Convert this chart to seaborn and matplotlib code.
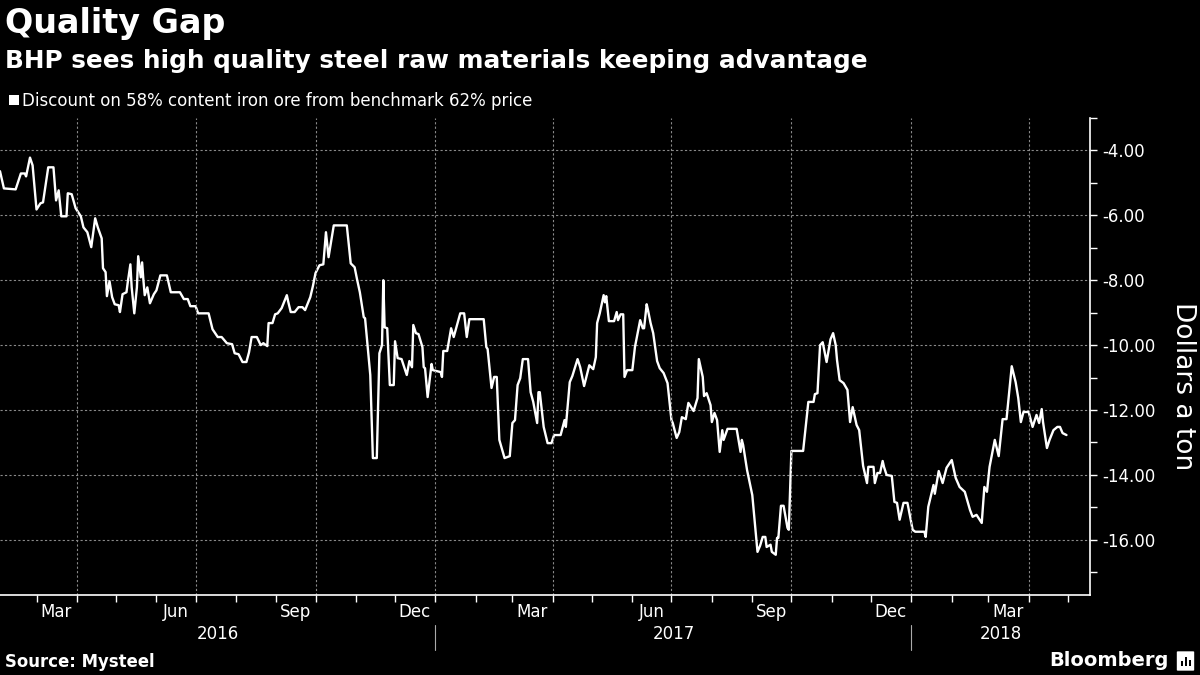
import pandas as pd
import numpy as np
import seaborn as sns
import matplotlib.pyplot as plt
import matplotlib.ticker as ticker
import matplotlib.transforms as transforms
from matplotlib.patches import Rectangle, FancyBboxPatch

#---------------------------------------------Data---------------------------------------------
# Discount on 58% iron ore vs 62% benchmark, dollars a ton
dates_2016 = ['2016-02-02', '2016-02-05', '2016-02-14', '2016-02-18', '2016-02-21', '2016-02-22',
              '2016-02-25', '2016-02-27', '2016-03-01', '2016-03-04', '2016-03-06', '2016-03-10',
              '2016-03-14', '2016-03-16', '2016-03-18', '2016-03-20', '2016-03-24', '2016-03-25',
              '2016-03-28', '2016-03-31', '2016-04-04', '2016-04-06', '2016-04-09', '2016-04-12',
              '2016-04-15', '2016-04-17', '2016-04-20', '2016-04-21', '2016-04-23', '2016-04-24',
              '2016-04-26', '2016-04-28', '2016-04-30', '2016-05-03', '2016-05-04', '2016-05-06',
              '2016-05-09', '2016-05-10', '2016-05-12', '2016-05-13', '2016-05-15', '2016-05-17',
              '2016-05-18', '2016-05-20', '2016-05-21', '2016-05-22', '2016-05-23', '2016-05-25',
              '2016-05-27', '2016-05-30', '2016-06-01', '2016-06-04', '2016-06-09', '2016-06-12',
              '2016-06-19', '2016-06-22', '2016-06-25', '2016-06-27', '2016-07-01', '2016-07-03',
              '2016-07-11', '2016-07-14', '2016-07-18', '2016-07-21', '2016-07-25', '2016-07-29',
              '2016-07-31', '2016-08-03', '2016-08-06', '2016-08-09', '2016-08-11', '2016-08-13',
              '2016-08-17', '2016-08-20', '2016-08-22', '2016-08-25', '2016-08-26', '2016-08-29',
              '2016-08-31', '2016-09-02', '2016-09-05', '2016-09-09', '2016-09-10', '2016-09-12',
              '2016-09-15', '2016-09-18', '2016-09-21', '2016-09-23', '2016-09-27', '2016-09-29',
              '2016-10-01', '2016-10-04', '2016-10-07', '2016-10-09', '2016-10-11', '2016-10-15',
              '2016-10-25', '2016-10-28', '2016-10-31', '2016-11-02', '2016-11-04', '2016-11-07',
              '2016-11-08', '2016-11-12', '2016-11-14', '2016-11-17', '2016-11-19', '2016-11-21',
              '2016-11-22', '2016-11-23', '2016-11-25', '2016-11-27', '2016-11-30', '2016-12-01',
              '2016-12-03', '2016-12-06', '2016-12-10', '2016-12-12', '2016-12-14', '2016-12-15',
              '2016-12-17', '2016-12-19', '2016-12-22', '2016-12-23', '2016-12-24', '2016-12-26',
              '2016-12-29', '2016-12-30']
values_2016 = [-4.64, -5.17, -5.20, -4.71, -4.71, -4.80,
               -4.22, -4.46, -5.82, -5.63, -5.60, -4.52,
               -4.52, -5.54, -5.23, -6.03, -6.03, -5.32,
               -5.35, -5.78, -6.03, -6.37, -6.52, -6.98,
               -6.09, -6.37, -6.71, -7.63, -7.75, -8.49,
               -8.03, -8.52, -8.74, -8.77, -8.98, -8.43,
               -8.37, -8.06, -7.51, -8.22, -9.02, -8.22,
               -7.26, -7.91, -7.45, -8.00, -8.46, -8.22,
               -8.71, -8.43, -8.31, -7.85, -7.85, -8.37,
               -8.37, -8.58, -8.58, -8.80, -8.80, -9.02,
               -9.02, -9.51, -9.75, -9.75, -9.94, -9.97,
               -10.25, -10.28, -10.52, -10.52, -10.22, -9.75,
               -9.75, -10.00, -9.94, -10.03, -9.32, -9.32,
               -9.05, -9.02, -8.86, -8.46, -8.65, -8.98,
               -8.98, -8.83, -8.83, -8.92, -8.52, -8.18,
               -7.78, -7.54, -7.51, -6.52, -7.29, -6.31,
               -6.31, -7.48, -7.60, -8.00, -8.37, -9.14,
               -9.17, -10.92, -13.48, -13.48, -10.25, -10.00,
               -8.00, -9.45, -9.48, -11.23, -11.23, -9.88,
               -10.40, -10.43, -10.92, -10.49, -10.68, -9.38,
               -9.63, -9.66, -10.06, -10.68, -10.71, -11.60,
               -10.58, -10.77]

dates_2017 = ['2017-01-05', '2017-01-06', '2017-01-07', '2017-01-10', '2017-01-13', '2017-01-15',
              '2017-01-20', '2017-01-23', '2017-01-25', '2017-01-27', '2017-02-07', '2017-02-09',
              '2017-02-10', '2017-02-13', '2017-02-15', '2017-02-17', '2017-02-19', '2017-02-23',
              '2017-02-27', '2017-03-01', '2017-03-03', '2017-03-05', '2017-03-07', '2017-03-09',
              '2017-03-13', '2017-03-15', '2017-03-17', '2017-03-20', '2017-03-21', '2017-03-22',
              '2017-03-25', '2017-03-28', '2017-03-31', '2017-04-02', '2017-04-07', '2017-04-10',
              '2017-04-11', '2017-04-14', '2017-04-16', '2017-04-20', '2017-04-22', '2017-04-25',
              '2017-04-29', '2017-05-02', '2017-05-04', '2017-05-05', '2017-05-07', '2017-05-10',
              '2017-05-11', '2017-05-12', '2017-05-14', '2017-05-18', '2017-05-20', '2017-05-21',
              '2017-05-23', '2017-05-25', '2017-05-26', '2017-05-28', '2017-06-01', '2017-06-03',
              '2017-06-07', '2017-06-09', '2017-06-10', '2017-06-12', '2017-06-13', '2017-06-15',
              '2017-06-17', '2017-06-20', '2017-06-22', '2017-06-25', '2017-06-28', '2017-07-01',
              '2017-07-02', '2017-07-05', '2017-07-07', '2017-07-09', '2017-07-12', '2017-07-14',
              '2017-07-18', '2017-07-21', '2017-07-22', '2017-07-25', '2017-07-26', '2017-07-28',
              '2017-07-31', '2017-08-01', '2017-08-03', '2017-08-05', '2017-08-07', '2017-08-09',
              '2017-08-10', '2017-08-13', '2017-08-20', '2017-08-23', '2017-08-24', '2017-08-25',
              '2017-08-28', '2017-09-01', '2017-09-05', '2017-09-07', '2017-09-09', '2017-09-11',
              '2017-09-12', '2017-09-15', '2017-09-16', '2017-09-19', '2017-09-20', '2017-09-21',
              '2017-09-23', '2017-09-25', '2017-09-28', '2017-09-29', '2017-10-01', '2017-10-10',
              '2017-10-14', '2017-10-18', '2017-10-19', '2017-10-21', '2017-10-23', '2017-10-25',
              '2017-10-28', '2017-10-31', '2017-11-02', '2017-11-04', '2017-11-05', '2017-11-07',
              '2017-11-10', '2017-11-13', '2017-11-15', '2017-11-17', '2017-11-20', '2017-11-22',
              '2017-11-25', '2017-11-28', '2017-11-29', '2017-12-03', '2017-12-04', '2017-12-06',
              '2017-12-08', '2017-12-10', '2017-12-11', '2017-12-13', '2017-12-17', '2017-12-19',
              '2017-12-21', '2017-12-23', '2017-12-26', '2017-12-29']
values_2017 = [-10.83, -10.98, -10.18, -10.18, -9.48, -9.75,
               -9.02, -9.02, -9.75, -9.20, -9.20, -10.06,
               -10.12, -11.32, -10.98, -10.98, -12.92, -13.48,
               -13.42, -12.40, -12.31, -11.23, -11.02, -10.43,
               -10.43, -11.45, -11.75, -12.40, -11.45, -11.45,
               -12.52, -13.02, -13.02, -12.77, -12.77, -12.31,
               -12.52, -11.14, -10.95, -10.43, -10.68, -11.26,
               -10.62, -10.74, -10.37, -9.32, -9.02, -8.46,
               -8.68, -8.49, -9.26, -9.26, -8.98, -9.23,
               -9.05, -9.05, -10.98, -10.77, -10.77, -10.06,
               -9.23, -9.48, -9.48, -8.74, -8.92, -9.32,
               -9.63, -10.49, -10.71, -10.86, -11.17, -12.31,
               -12.40, -12.86, -12.68, -12.22, -12.28, -11.78,
               -12.03, -11.63, -10.43, -10.98, -11.57, -11.48,
               -11.85, -12.37, -12.09, -12.31, -13.29, -12.62,
               -12.92, -12.58, -12.58, -13.29, -12.92, -13.08,
               -13.85, -14.62, -16.37, -16.18, -15.91, -15.91,
               -16.22, -16.15, -16.37, -16.46, -15.94, -15.94,
               -14.95, -14.95, -15.63, -15.69, -13.26, -13.26,
               -11.75, -11.75, -11.51, -11.48, -10.00, -9.91,
               -10.52, -9.82, -9.63, -10.00, -10.46, -11.08,
               -11.17, -11.38, -12.37, -11.91, -12.46, -12.62,
               -13.72, -14.25, -13.75, -13.75, -14.25, -13.94,
               -13.94, -13.57, -13.75, -14.00, -14.03, -14.83,
               -14.86, -15.38, -14.86, -14.86]

dates_2018 = ['2018-01-02', '2018-01-04', '2018-01-11', '2018-01-12', '2018-01-14', '2018-01-18',
              '2018-01-19', '2018-01-22', '2018-01-25', '2018-01-28', '2018-02-01', '2018-02-04',
              '2018-02-07', '2018-02-11', '2018-02-15', '2018-02-17', '2018-02-20', '2018-02-24',
              '2018-02-26', '2018-02-28', '2018-03-02', '2018-03-06', '2018-03-09', '2018-03-12',
              '2018-03-15', '2018-03-19', '2018-03-22', '2018-03-24', '2018-03-26', '2018-03-28',
              '2018-04-01', '2018-04-04', '2018-04-07', '2018-04-09', '2018-04-11', '2018-04-12',
              '2018-04-15', '2018-04-17', '2018-04-20', '2018-04-23', '2018-04-25', '2018-04-27',
              '2018-04-30']
values_2018 = [-15.69, -15.75, -15.75, -15.91, -14.98, -14.31,
               -14.58, -13.88, -14.25, -13.78, -13.54, -14.09,
               -14.37, -14.52, -15.08, -15.29, -15.23, -15.48,
               -14.37, -14.52, -13.75, -12.92, -13.42, -12.28,
               -12.28, -10.65, -11.14, -11.63, -12.37, -12.06,
               -12.06, -12.52, -12.15, -12.40, -11.97, -12.37,
               -13.17, -12.92, -12.62, -12.52, -12.52, -12.71,
               -12.77]

# axis setup values
y_ticks = [-16, -14, -12, -10, -8, -6, -4]
x_start = pd.Timestamp('2016-02-02')
x_end = pd.Timestamp('2018-05-18')
y_min, y_max = -17.7, -3.0

df = pd.DataFrame({'Date': pd.to_datetime(dates_2016 + dates_2017 + dates_2018),
                   'Discount': values_2016 + values_2017 + values_2018})

#---------------------------------------------Plot---------------------------------------------
sns.set_theme(style='dark', rc={'axes.facecolor': 'black', 'figure.facecolor': 'black',
                                'text.color': 'white', 'xtick.color': 'white',
                                'ytick.color': 'white', 'axes.edgecolor': 'white'})
plt.rcParams['font.family'] = ['DejaVu Sans']

fig = plt.figure(figsize=(12, 6.75), dpi=100)
ax = fig.add_axes([0, 0.1185, 0.9083, 0.7067])

sns.lineplot(data=df, x='Date', y='Discount', color='white', linewidth=1.7, ax=ax)
ax.set_xlim(x_start, x_end)
ax.set_ylim(y_min, y_max)
ax.set_xlabel('')
ax.set_ylabel('')

# spines
for side in ['top', 'left']:
    ax.spines[side].set_visible(False)
for side in ['bottom', 'right']:
    ax.spines[side].set_color('white')
    ax.spines[side].set_linewidth(1.2)

# Y axis on the right
ax.yaxis.tick_right()
ax.set_yticks(y_ticks)
ax.set_yticklabels(['{:.2f}'.format(v) for v in y_ticks], fontsize=12, color='white')
ax.yaxis.set_minor_locator(ticker.MultipleLocator(1))
ax.tick_params(axis='y', which='both', direction='out', length=5, width=1,
               colors='white', right=True, left=False, pad=4)
ax.yaxis.grid(True, color='#8a8a8a', linestyle=(0, (2, 2)), linewidth=0.8)

# axis title sits a bit below the middle, like the original
fig.text(1183 / 1200, 1 - 386 / 675, 'Dollars a ton', fontsize=19, color='white',
         rotation=270, ha='center', va='center')

# X axis: labels mid-month for Mar/Jun/Sep/Dec, ticks at month starts
label_dates = pd.date_range('2016-03-01', x_end, freq='QS-MAR') + pd.Timedelta(days=15)
ax.set_xticks(label_dates)
ax.set_xticklabels([d.strftime('%b') for d in label_dates], fontsize=12, color='white')
month_starts = pd.date_range(x_start, x_end, freq='MS')
ax.set_xticks(month_starts, minor=True)
ax.tick_params(axis='x', which='major', length=0, pad=6)
ax.tick_params(axis='x', which='minor', length=5, width=1, colors='white', bottom=True)

# vertical gridlines at quarter starts
quarter_starts = pd.date_range(x_start, x_end, freq='QS-JAN')
ax.vlines(quarter_starts, y_min, y_max, colors='#8a8a8a', linestyles=(0, (2, 2)), linewidth=0.8)

# year labels and separators under the axis
trans = transforms.blended_transform_factory(ax.transData, ax.transAxes)
for year in [2016, 2017, 2018]:
    lo = max(pd.Timestamp(year=year, month=1, day=1), x_start)
    hi = min(pd.Timestamp(year=year + 1, month=1, day=1), x_end)
    ax.text(lo + (hi - lo) / 2, -0.082, str(year), transform=trans, ha='center', va='center',
            fontsize=12, color='white')
    if year > 2016:
        jan1 = pd.Timestamp(year=year, month=1, day=1)
        ax.plot([jan1, jan1], [-0.063, -0.115], transform=trans, color='#aaaaaa',
                linewidth=0.8, clip_on=False)

# Titles
fig.text(0.004, 0.951, 'Quality Gap', fontsize=24, fontweight='bold', color='white', va='baseline')
fig.text(0.004, 0.899, 'BHP sees high quality steel raw materials keeping advantage',
         fontsize=17.8, fontweight='bold', color='white', va='baseline')

# legend entry
fig.patches.append(Rectangle((0.0075, 1 - 105 / 675), 10 / 1200, 10 / 675,
                             transform=fig.transFigure, facecolor='white', edgecolor='none'))
fig.text(0.0183, 1 - 106 / 675, 'Discount on 58% content iron ore from benchmark 62% price',
         fontsize=12, color='white', va='baseline')

# footer
fig.text(0.004, 1 - 667 / 675, 'Source: Mysteel', fontsize=11.9, fontweight='bold',
         color='white', va='baseline')
fig.text(0.9735, 1 - 666 / 675, 'Bloomberg', fontsize=14, fontweight='bold',
         color='white', va='baseline', ha='right')
fig.patches.append(FancyBboxPatch((1178 / 1200, 1 - 670 / 675), 15 / 1200, 18 / 675,
                                  boxstyle='round,pad=0.001', transform=fig.transFigure,
                                  facecolor='white', edgecolor='none'))
for i, h in enumerate([5, 9, 6]):
    fig.patches.append(Rectangle(((1181 + i * 4) / 1200, 1 - 666 / 675), 2 / 1200, h / 675,
                                 transform=fig.transFigure, facecolor='black', edgecolor='none'))

plt.savefig('out.png', dpi=100, facecolor='black')
